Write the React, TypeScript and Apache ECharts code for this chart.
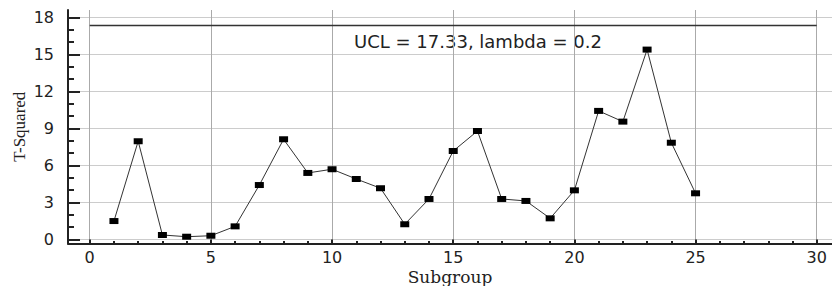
import React, { useEffect, useRef } from "react";
import * as echarts from "echarts";

const subgroups = [1,2,3,4,5,6,7,8,9,10,11,12,13,14,15,16,17,18,19,20,21,22,23,24,25];
const tSquared = [1.48,7.95,0.35,0.21,0.29,1.05,4.40,8.11,5.38,5.68,4.89,4.14,1.22,3.27,7.16,8.78,3.27,3.11,1.70,3.97,10.41,9.54,15.38,7.83,3.73];
const ucl = 17.33;
const lambda = 0.2;
const uclSpan = [0, 30];
const xMajorTicks = [0,5,10,15,20,25,30];
const xMinorTicks = [1,2,3,4,6,7,8,9,11,12,13,14,16,17,18,19,21,22,23,24,26,27,28,29];
const yMajorTicks = [0,3,6,9,12,15,18];
const yMinorTicks = [1,2,4,5,7,8,10,11,13,14,16,17];

export default function App() {
  const ref = useRef<HTMLDivElement>(null);
  useEffect(() => {
    if (!ref.current) return;
    const chart = echarts.init(ref.current, undefined, { renderer: "svg" });
    const labelFont = { fontFamily: "DejaVu Sans", fontSize: 16, color: "#222" };
    chart.setOption({
      animation: false,
      backgroundColor: "#fff",
      grid: { left: 68, right: 0, top: 10, bottom: 42.5, containLabel: false, outerBoundsMode: "none" },
      xAxis: [
        {
          type: "value", min: -0.896, max: 30.63, position: "bottom",
          name: "Subgroup", nameLocation: "middle", nameGap: 25, nameMoveOverlap: false,
          nameTextStyle: { fontFamily: "DejaVu Serif", fontSize: 17, lineHeight: 17, color: "#222" },
          axisLine: { show: true, onZero: false, lineStyle: { color: "#222", width: 2 } },
          axisTick: { show: true, inside: true, length: 4, customValues: xMajorTicks, lineStyle: { color: "#222", width: 2 } },
          axisLabel: { ...labelFont, lineHeight: 16, margin: 6, customValues: xMajorTicks },
          splitLine: { show: true, lineStyle: { color: "#aaaaaa", width: 1 } },
        },
        {
          type: "value", min: -0.896, max: 30.63, position: "bottom", gridIndex: 0,
          axisLine: { show: false, onZero: false },
          axisTick: { show: true, inside: true, length: 2.5, customValues: xMinorTicks, lineStyle: { color: "#222", width: 2 } },
          axisLabel: { show: false },
          splitLine: { show: false },
        },
      ],
      yAxis: [
        {
          type: "value", min: -0.34, max: 18.59, position: "left",
          name: "T-Squared", nameLocation: "middle", nameGap: 40, nameMoveOverlap: false,
          nameTextStyle: { fontFamily: "Liberation Serif", fontSize: 17, color: "#222" },
          axisLine: { show: true, onZero: false, lineStyle: { color: "#222", width: 2 } },
          axisTick: { show: true, inside: true, length: 12, customValues: yMajorTicks, lineStyle: { color: "#222", width: 2 } },
          axisLabel: { ...labelFont, margin: 14, customValues: yMajorTicks },
          splitLine: { show: true, lineStyle: { color: "#cccccc", width: 1 } },
        },
        {
          type: "value", min: -0.34, max: 18.59, position: "left", gridIndex: 0,
          axisLine: { show: false, onZero: false },
          axisTick: { show: true, inside: true, length: 6, customValues: yMinorTicks, lineStyle: { color: "#222", width: 2 } },
          axisLabel: { show: false },
          splitLine: { show: false },
        },
      ],
      series: [
        {
          type: "line", xAxisIndex: 0, yAxisIndex: 0,
          data: subgroups.map((s, i) => [s, tSquared[i]]),
          symbol: "rect", symbolSize: [9, 6],
          itemStyle: { color: "#000" },
          lineStyle: { color: "#333", width: 1 },
          z: 3,
        },
        {
          type: "line", xAxisIndex: 0, yAxisIndex: 0,
          data: uclSpan.map((x) => [x, ucl]),
          symbol: "none",
          lineStyle: { color: "#333", width: 1.5 },
          z: 2,
        },
      ],
      graphic: [
        {
          type: "text", x: 478, y: 41,
          style: {
            text: `UCL = ${ucl.toFixed(2)}, lambda = ${lambda}`,
            fontFamily: "DejaVu Sans", fontSize: 18, fill: "#222",
            align: "center", verticalAlign: "middle",
          },
        },
      ],
    });
    return () => chart.dispose();
  }, []);
  return <div ref={ref} style={{ position: "absolute", left: 0, top: 0, width: 832, height: 286 }} />;
}
